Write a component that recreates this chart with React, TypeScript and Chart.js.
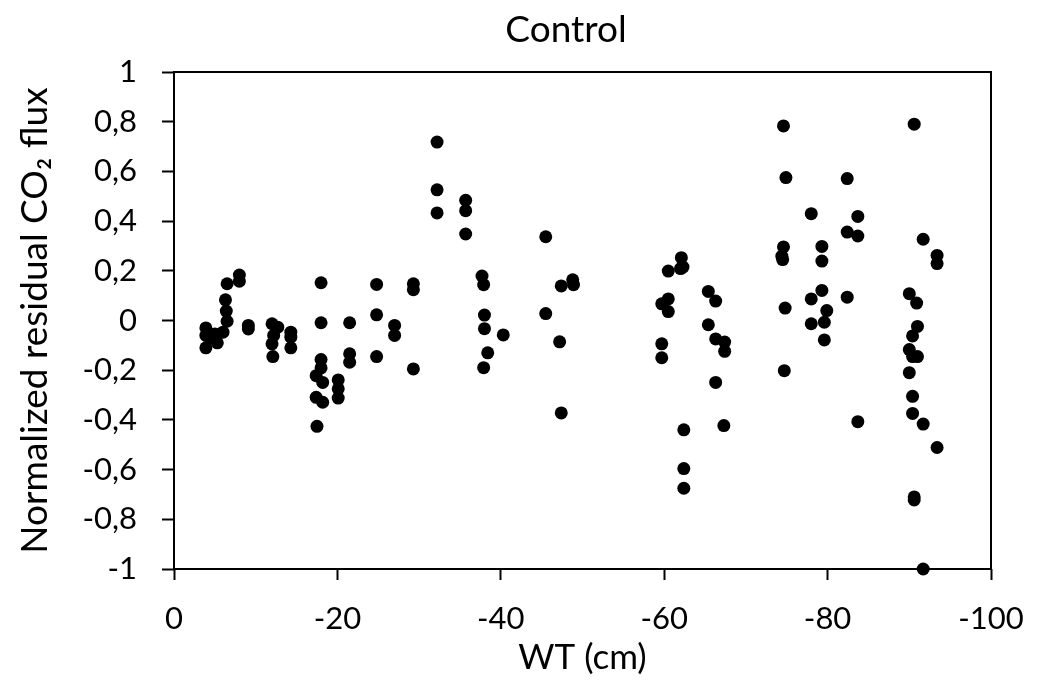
import React, { useEffect, useRef } from "react";
import { Chart, registerables } from "chart.js";

Chart.register(...registerables);

const chartTitle = "Control";
const xAxisTitle = "WT (cm)";
const yAxisTitle = "Normalized residual CO\u2082 flux";

// water table depth (cm)
const wtDepth: number[] = [
  -3.9, -3.9, -3.9, -4.5, -5.0, -5.3, -6.0, -6.5, -6.3, -6.4, -6.5, -8.0, -8.0, -9.1, -9.1,
  -12.0, -12.7, -12.2, -12.0, -12.1, -14.3, -14.3, -14.3,
  -18.0, -18.0, -18.0, -18.0, -17.4, -18.2, -17.4, -18.2, -17.5, -20.1, -20.1, -20.1,
  -21.5, -21.5, -21.5, -24.8, -24.8, -24.8, -27.0, -27.0, -29.3, -29.3, -29.3,
  -32.2, -32.2, -32.2, -35.7, -35.7, -35.7,
  -37.7, -37.9, -38.0, -38.0, -38.4, -37.9, -40.3,
  -45.5, -45.5, -47.4, -47.2, -47.4, -48.8, -48.9,
  -60.5, -60.5, -60.5, -59.7, -59.7, -59.7, -62.1, -62.3, -62.0, -62.4, -62.4, -62.4,
  -65.4, -65.4, -66.3, -66.3, -66.3, -67.4, -67.4, -67.3,
  -74.6, -74.9, -74.6, -74.4, -74.5, -74.8, -74.7,
  -78.0, -78.0, -78.0, -79.3, -79.3, -79.3, -79.9, -79.6, -79.6,
  -82.4, -82.4, -82.4, -83.7, -83.7, -83.7,
  -90.6, -91.7, -93.4, -93.4, -90.0, -90.9, -91.0, -90.4, -90.0, -90.4, -91.0, -90.0,
  -90.4, -90.4, -91.7, -93.4, -90.6, -90.6, -91.7,
];

// normalized residual CO2 flux
const residualFlux: number[] = [
  -0.03, -0.06, -0.11, -0.07, -0.054, -0.09, -0.047, 0.148, 0.083, 0.038, -0.003, 0.183, 0.158, -0.02, -0.034,
  -0.013, -0.027, -0.06, -0.094, -0.145, -0.047, -0.067, -0.11,
  0.152, -0.009, -0.157, -0.191, -0.222, -0.249, -0.309, -0.329, -0.426, -0.239, -0.275, -0.312,
  -0.009, -0.134, -0.168, 0.145, 0.023, -0.145, -0.02, -0.06, 0.148, 0.124, -0.195,
  0.718, 0.526, 0.433, 0.484, 0.442, 0.348,
  0.179, 0.144, 0.022, -0.033, -0.13, -0.19, -0.058,
  0.337, 0.028, 0.139, -0.086, -0.372, 0.164, 0.144,
  0.199, 0.087, 0.036, 0.067, -0.094, -0.15, 0.253, 0.215, 0.209, -0.44, -0.596, -0.675,
  0.117, -0.017, 0.078, -0.074, -0.249, -0.087, -0.124, -0.423,
  0.783, 0.575, 0.296, 0.259, 0.245, 0.05, -0.202,
  0.43, 0.087, -0.013, 0.298, 0.239, 0.121, 0.04, -0.007, -0.078,
  0.571, 0.356, 0.094, 0.419, 0.34, -0.407,
  0.79, 0.327, 0.262, 0.229, 0.108, 0.07, -0.024, -0.062, -0.117, -0.145, -0.145, -0.21,
  -0.305, -0.374, -0.417, -0.511, -0.722, -0.71, -1.0,
];

const xRange = { min: -100, max: 0, step: 20 };
const yRange = { min: -1, max: 1, step: 0.2 };

const FONT = "Lato";

const framePlugin = {
  id: "frame",
  beforeDatasetsDraw(chart: any) {
    const { ctx, chartArea } = chart;
    ctx.save();
    ctx.strokeStyle = "#000";
    ctx.lineWidth = 2;
    ctx.strokeRect(chartArea.left, chartArea.top, chartArea.right - chartArea.left, chartArea.bottom - chartArea.top);
    ctx.restore();
  },
};

const titlePlugin = {
  id: "topTitle",
  afterDraw(chart: any) {
    const { ctx } = chart;
    ctx.save();
    ctx.fillStyle = "#000";
    ctx.font = `normal 37px ${FONT}`;
    ctx.textAlign = "center";
    ctx.textBaseline = "middle";
    ctx.fillText(chartTitle, 566, 30);
    ctx.restore();
  },
};

export default function App() {
  const canvasRef = useRef<HTMLCanvasElement | null>(null);

  useEffect(() => {
    document.body.style.margin = "0";
    const canvas = canvasRef.current;
    if (!canvas) return;
    const points = wtDepth.map((x, i) => ({ x, y: residualFlux[i] }));
    const chart = new Chart(canvas, {
      type: "scatter",
      data: {
        datasets: [
          {
            data: points,
            backgroundColor: "#000",
            borderColor: "#000",
            pointRadius: 6.5,
            pointBorderWidth: 0,
            clip: false as any,
          },
        ],
      },
      options: {
        animation: false,
        responsive: false,
        devicePixelRatio: 1,
        layout: { padding: { left: 0, right: 62, top: 72, bottom: 0 } },
        plugins: {
          legend: { display: false },
          tooltip: { enabled: false },
          title: { display: false },
        },
        scales: {
          x: {
            type: "linear",
            min: xRange.min,
            max: xRange.max,
            reverse: true,
            afterFit: (scale: any) => {
              scale.height = 127;
            },
            border: { display: false },
            grid: {
              drawOnChartArea: false,
              drawTicks: true,
              tickLength: 11,
              tickColor: "#000",
              tickWidth: 2,
            },
            ticks: {
              stepSize: xRange.step,
              color: "#000",
              padding: 20,
              font: { family: FONT, size: 31 },
              maxRotation: 0,
              callback: (v: any) => String(Math.round(Number(v))),
            },
            title: {
              display: true,
              text: xAxisTitle,
              color: "#000",
              font: { family: FONT, size: 35 },
              padding: { top: 0, bottom: 17 },
            },
          },
          y: {
            type: "linear",
            min: yRange.min,
            max: yRange.max,
            afterFit: (scale: any) => {
              scale.width = 174;
            },
            border: { display: false },
            grid: {
              drawOnChartArea: false,
              drawTicks: true,
              tickLength: 12,
              tickColor: "#000",
              tickWidth: 2,
            },
            ticks: {
              stepSize: yRange.step,
              color: "#000",
              padding: 25,
              font: { family: FONT, size: 31 },
              callback: (v: any) => {
                const n = Math.round(Number(v) * 10) / 10;
                if (n === 0) return "0";
                return String(n).replace(".", ",");
              },
            },
            title: {
              display: true,
              text: yAxisTitle,
              color: "#000",
              font: { family: FONT, size: 37 },
              padding: { top: 13, bottom: 0 },
            },
          },
        },
      },
      plugins: [framePlugin, titlePlugin],
    });
    return () => chart.destroy();
  }, []);

  return (
    <div style={{ width: 1053, height: 696, background: "#fff" }}>
      <canvas ref={canvasRef} width={1053} height={696} style={{ display: "block" }} />
    </div>
  );
}
